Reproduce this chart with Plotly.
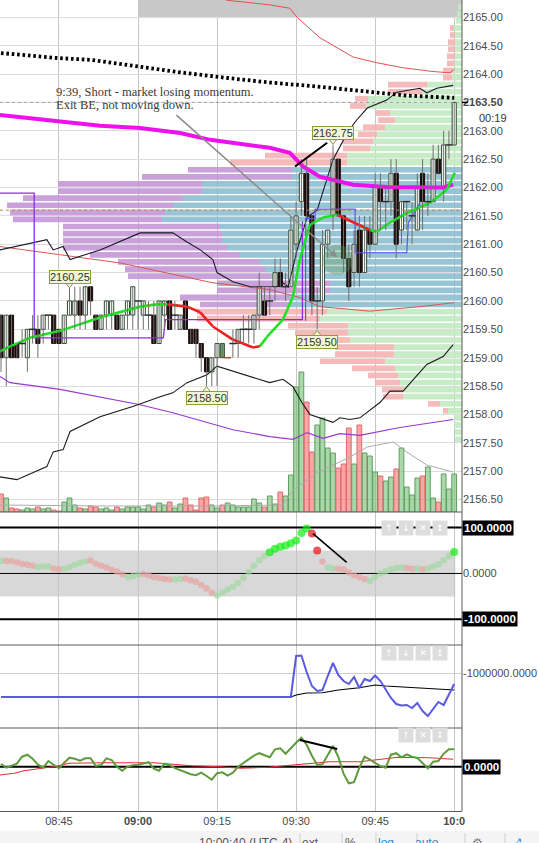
import plotly.graph_objects as go

# ---------------- chart data ----------------
# one-minute bars, minute index 0 = 08:34 ... 86 = 10:00
minute = list(range(87))
opens = [2159.75, 2159.00, 2159.75, 2159.25, 2159.25, 2159.00, 2159.50, 2159.50, 2159.50, 2159.75,
         2159.75, 2159.50, 2159.25, 2159.75, 2159.75, 2160.00, 2159.75, 2160.25, 2159.75, 2159.50,
         2159.75, 2159.75, 2159.75, 2159.50, 2159.75, 2159.75, 2160.00, 2159.75, 2159.75, 2159.75,
         2159.25, 2159.75, 2160.00, 2159.75, 2159.50, 2160.00, 2159.50, 2159.50, 2159.25, 2159.00,
         2158.75, 2159.00, 2159.00, 2159.00, 2159.25, 2159.25, 2159.50, 2159.50, 2159.50, 2159.75,
         2160.00, 2160.00, 2160.25, 2160.50, 2160.25, 2160.25, 2161.00, 2161.75, 2162.25, 2161.50,
         2160.00, 2160.00, 2161.00, 2161.50, 2162.50, 2161.50, 2160.75, 2160.50, 2161.25, 2160.50,
         2161.25, 2161.00, 2162.00, 2161.75, 2161.75, 2162.25, 2161.25, 2161.75, 2161.50, 2161.25,
         2162.25, 2161.75, 2161.75, 2162.50, 2162.00, 2162.75, 2162.75]
highs = [2159.75, 2159.75, 2159.75, 2159.25, 2159.50, 2159.50, 2159.75, 2159.75, 2159.75, 2159.75,
         2159.75, 2159.50, 2159.75, 2160.25, 2160.25, 2160.25, 2160.25, 2160.25, 2159.75, 2159.75,
         2160.00, 2160.00, 2159.75, 2159.75, 2160.00, 2160.25, 2160.00, 2160.00, 2160.00, 2160.00,
         2160.00, 2160.00, 2160.00, 2160.00, 2159.75, 2160.00, 2159.50, 2159.50, 2159.25, 2159.00,
         2159.00, 2159.25, 2159.25, 2159.00, 2159.50, 2159.50, 2159.75, 2159.75, 2159.75, 2160.50,
         2160.25, 2160.25, 2160.75, 2160.75, 2160.50, 2161.50, 2161.75, 2162.50, 2162.50, 2161.50,
         2160.25, 2161.25, 2161.25, 2162.75, 2162.50, 2161.50, 2161.00, 2161.25, 2161.50, 2161.50,
         2161.50, 2162.25, 2162.25, 2162.00, 2162.50, 2162.50, 2161.75, 2161.75, 2161.75, 2162.25,
         2162.50, 2162.25, 2162.75, 2162.75, 2163.00, 2163.00, 2163.50]
lows = [2158.75, 2158.50, 2159.00, 2159.00, 2159.00, 2158.75, 2159.25, 2159.00, 2159.25, 2159.50,
        2159.25, 2159.25, 2159.25, 2159.75, 2159.50, 2159.50, 2159.50, 2159.75, 2159.50, 2159.50,
        2159.50, 2159.50, 2159.50, 2159.50, 2159.50, 2159.50, 2159.50, 2159.50, 2159.50, 2159.25,
        2159.25, 2159.50, 2159.50, 2159.50, 2159.50, 2159.50, 2159.25, 2159.00, 2158.75, 2158.50,
        2158.50, 2158.50, 2159.00, 2159.00, 2159.00, 2159.00, 2159.25, 2159.25, 2159.25, 2159.50,
        2159.75, 2159.75, 2160.00, 2160.25, 2160.00, 2160.25, 2160.75, 2161.50, 2161.50, 2159.75,
        2159.50, 2159.75, 2160.75, 2161.25, 2161.50, 2160.50, 2160.00, 2160.25, 2160.25, 2160.50,
        2160.75, 2161.00, 2161.25, 2161.25, 2161.50, 2160.75, 2161.00, 2161.25, 2161.00, 2161.25,
        2161.25, 2161.50, 2161.75, 2162.25, 2161.75, 2162.50, 2162.75]
closes = [2159.00, 2159.75, 2159.00, 2159.00, 2159.25, 2159.50, 2159.50, 2159.25, 2159.75, 2159.75,
          2159.25, 2159.25, 2159.75, 2160.00, 2160.00, 2159.75, 2160.25, 2160.00, 2159.50, 2159.75,
          2160.00, 2160.00, 2159.50, 2159.75, 2160.00, 2160.25, 2160.00, 2160.00, 2159.75, 2159.25,
          2160.00, 2160.00, 2159.50, 2159.75, 2159.75, 2159.50, 2159.25, 2159.25, 2159.00, 2158.75,
          2159.00, 2159.25, 2159.25, 2159.00, 2159.25, 2159.50, 2159.50, 2159.50, 2159.75, 2160.25,
          2159.75, 2160.00, 2160.50, 2160.25, 2160.25, 2161.25, 2161.50, 2162.25, 2161.50, 2160.00,
          2160.00, 2161.00, 2161.25, 2162.50, 2161.50, 2160.75, 2160.25, 2161.00, 2160.50, 2161.25,
          2161.00, 2162.00, 2161.75, 2161.75, 2162.25, 2161.00, 2161.75, 2161.75, 2161.50, 2162.00,
          2161.75, 2161.75, 2162.50, 2162.25, 2162.75, 2162.75, 2163.50]

volume = [18, 14, 4, 3, 2, 4, 3, 5, 3, 4,
          2, 1, 10, 14, 7, 4, 3, 6, 5, 3,
          4, 2, 5, 3, 5, 5, 5, 3, 7, 5,
          9, 7, 10, 4, 8, 14, 7, 2, 14, 15,
          7, 4, 7, 9, 7, 5, 5, 5, 13, 9,
          5, 16, 8, 20, 16, 37, 125, 140, 110, 60,
          87, 94, 64, 59, 44, 48, 84, 48, 87, 59,
          56, 40, 36, 31, 35, 43, 64, 25, 17, 34,
          36, 45, 14, 10, 38, 23, 38]
volume_up = [0, 1, 0, 0, 1, 1, 1, 0, 1, 1,
             0, 0, 1, 1, 1, 0, 1, 0, 0, 1,
             1, 1, 0, 1, 1, 1, 1, 1, 1, 0,
             1, 1, 0, 1, 1, 0, 0, 0, 0, 0,
             1, 1, 0, 1, 1, 1, 1, 1, 1, 1,
             0, 1, 1, 0, 1, 1, 1, 1, 0, 0,
             1, 1, 1, 1, 0, 0, 0, 1, 0, 1,
             1, 1, 0, 1, 1, 0, 1, 1, 1, 1,
             0, 1, 1, 0, 1, 1, 1]
vol_ma_t = [-0.2, 20, 40, 53.5, 55.4, 60, 63, 66.2, 69.5, 74.4, 77, 80.8, 85.8]
vol_ma_v = [7, 6, 6, 7, 22, 39, 47, 55, 65, 70, 60, 47, 40]

# volume profile rows (row bottom price, up volume, down volume)
prof_bottom = [2165.125, 2165.0, 2164.875, 2164.75, 2164.625, 2164.5, 2164.375, 2164.25, 2164.125, 2164.0,
               2163.875, 2163.75, 2163.625, 2163.5, 2163.375, 2163.25, 2163.125, 2163.0, 2162.875, 2162.75,
               2162.625, 2162.5, 2162.375, 2162.25, 2162.125, 2162.0, 2161.875, 2161.75, 2161.625, 2161.5,
               2161.375, 2161.25, 2161.125, 2161.0, 2160.875, 2160.75, 2160.625, 2160.5, 2160.375, 2160.25,
               2160.125, 2160.0, 2159.875, 2159.75, 2159.625, 2159.5, 2159.375, 2159.25, 2159.125, 2159.0,
               2158.875, 2158.75, 2158.625, 2158.5, 2158.375, 2158.25, 2158.125, 2158.0, 2157.875, 2157.75,
               2157.625, 2157.5]
prof_up = [4, 5, 6, 8, 7, 7, 7, 7, 8, 9,
           10, 35, 40, 94, 96, 72, 67, 77, 85, 89,
           92, 115, 115, 170, 170, 260, 260, 279, 289, 297,
           300, 242, 240, 240, 235, 222, 202, 197, 192, 132,
           132, 172, 172, 135, 142, 114, 114, 112, 68, 68,
           77, 67, 64, 62, 59, 59, 22, 14, 8, 8,
           7, 7]
prof_down = [0, 0, 0, 4, 5, 7, 7, 8, 7, 10,
             9, 39, 34, 13, 16, 15, 17, 22, 19, 31,
             27, 82, 117, 104, 150, 144, 144, 160, 166, 155,
             149, 157, 159, 159, 164, 150, 142, 140, 142, 113,
             113, 110, 90, 130, 123, 60, 53, 30, 59, 59,
             65, 43, 30, 25, 21, 20, 12, 5, 0, 0,
             0, 0]
value_area = (2159.875, 2162.375)

# overlay studies on price (time in minutes, price)
dots_t = [0, 11, 17, 26, 34, 43, 51, 60, 68, 77, 86]
dots_v = [2164.37, 2164.28, 2164.25, 2164.13, 2164.03, 2163.93, 2163.85, 2163.78, 2163.71, 2163.62, 2163.58]
vwap_t = [-0.2, 11.2, 18.8, 26.4, 34, 39.7, 44, 51, 54.8, 57.3, 60.5, 66.8, 73.2, 79.5, 83.9, 85.8]
vwap_v = [2163.28, 2163.16, 2163.09, 2163.05, 2162.96, 2162.84, 2162.79, 2162.70, 2162.61, 2162.37,
          2162.19, 2162.05, 2162.01, 2162.00, 2162.00, 2162.05]
red_up_t = [40, 42.9, 51, 54.8, 56.2, 60.5, 66.8, 71.3, 76.3, 81.4, 85.2, 86.1]
red_up_v = [2165.45, 2165.30, 2165.22, 2165.16, 2165.00, 2164.64, 2164.30, 2164.20, 2164.11, 2164.05, 2164.02, 2164.09]
red_mid_t = [-0.2, 22.6, 40.2, 51, 56.7, 60.5, 70, 79.5, 86]
red_mid_v = [2160.96, 2160.67, 2160.32, 2160.20, 2160.06, 2159.90, 2159.82, 2159.90, 2159.97]
blk_up_t = [-0.2, 8.7, 9.9, 11.8, 13.1, 18.8, 26.4, 32.6, 35.3, 37.8, 40.2, 41, 44, 47.3, 52.4, 53.5,
            54.5, 56.2, 58.1, 60, 63, 65.8, 67.5, 69.5, 73.2, 75.1, 79.5, 80.8, 82.7, 85.8]
blk_up_v = [2160.90, 2161.08, 2160.90, 2160.96, 2160.73, 2160.90, 2161.20, 2161.20, 2161.04, 2160.90,
            2160.73, 2160.50, 2160.34, 2160.25, 2160.25, 2160.32, 2160.25, 2160.90, 2161.48, 2161.60,
            2162.49, 2162.98, 2163.19, 2163.40, 2163.54, 2163.68, 2163.75, 2163.67, 2163.75, 2163.80]
blk_lo_t = [-0.2, 3.0, 8.7, 9.9, 11.8, 13.1, 18.8, 25, 30.2, 32.6, 35.3, 39.1, 41, 44, 47.8, 51, 53.5,
            55.4, 57.1, 58.6, 63, 64.3, 66.2, 68.1, 71.9, 73.8, 76.3, 80.8, 83.9, 85.8]
blk_lo_v = [2156.90, 2156.85, 2157.08, 2157.34, 2157.38, 2157.70, 2157.96, 2158.14, 2158.31, 2158.38,
            2158.56, 2158.70, 2158.85, 2158.76, 2158.65, 2158.56, 2158.62, 2158.49, 2158.21, 2158.00,
            2157.86, 2157.94, 2157.91, 2157.94, 2158.21, 2158.41, 2158.41, 2158.88, 2159.02, 2159.23]
pur_lo_t = [-0.2, 1.7, 11.2, 18.8, 26.4, 32.6, 39.1, 44, 51, 55.4, 58.1, 61.1, 64.3, 68.1, 75.7, 85.8]
pur_lo_v = [2158.67, 2158.56, 2158.44, 2158.31, 2158.17, 2158.03, 2157.86, 2157.73, 2157.61, 2157.56,
            2157.68, 2157.58, 2157.66, 2157.63, 2157.77, 2157.91]
ema_t = [-0.2, 1.7, 5.5, 11.8, 18.8, 26.4, 29.6, 31.5, 35.3, 37.8, 40.2, 44, 47.8, 49.1, 50.5, 53.5,
         55.4, 56.7, 58.6, 61.1, 63.8, 64.7, 70, 71.3, 73.8, 77, 81.4, 84.6, 86.1]
ema_v = [2159.11, 2159.20, 2159.35, 2159.49, 2159.71, 2159.90, 2159.94, 2159.94, 2159.90, 2159.80,
         2159.55, 2159.32, 2159.18, 2159.20, 2159.37, 2159.67, 2160.08, 2160.73, 2161.34, 2161.47,
         2161.52, 2161.48, 2161.25, 2161.22, 2161.38, 2161.55, 2161.73, 2161.96, 2162.26]
ema_dir = ['up'] * 7 + ['down'] * 6 + ['up'] * 7 + ['down'] * 2 + ['up'] * 7
step_t = [-0.2, 6.3, 6.3, 30.8, 31.2, 56.7, 57.2, 57.2]
step_v = [2161.90, 2161.90, 2159.35, 2159.35, 2159.67, 2159.67, 2159.67, 2161.40]
ib_t = [57.8, 57.8, 59.6, 59.6, 67.2, 67.2, 77.0, 77.3, 79.5]
ib_v = [2159.65, 2161.45, 2161.45, 2161.62, 2161.62, 2160.85, 2160.85, 2161.38, 2161.73]
poc_price = 2161.60
last_price = 2163.50

price_ticks = [2156.5, 2157.0, 2157.5, 2158.0, 2158.5, 2159.0, 2159.5, 2160.0, 2160.5,
               2161.0, 2161.5, 2162.0, 2162.5, 2163.0, 2163.5, 2164.0, 2164.5, 2165.0]
time_ticks = [11, 26, 41, 56, 71, 86]
time_labels = ["08:45", "<b>09:00</b>", "09:15", "09:30", "09:45", "<b>10:0</b>"]

# CCI pane
cci = [27, 27, 27, 24, 21, 19, 17, 14, 15, 15,
       11, 9, 10, 14, 19, 23, 26, 28, 21, 17,
       13, 8, 4, -2, -8, -6, -3, -1, -4, -8,
       -10, -12, -13, -13, -12, -11, -15, -18, -25, -33,
       -42, -48, -42, -35, -29, -21, -10, 3, 17, 29,
       38, 46, 54, 58, 61, 66, 72, 88, 98, 87,
       50, 26, 13, 11, 10, 9, 2, -4, -8, -12,
       -16, -8, 0, 5, 9, 12, 13, 12, 10, 10,
       9, 11, 15, 20, 29, 38, 47]
cci_state = list("g" "rrrrrr" "ggg" "rr" "ggggg" "rrrrrrr" "ggg" "rrrrrr" "gg" "rrrrrr"
                 "gggggggggg" "GGGGGGGG" "RR" "r" "gg" "rrrrrr" "ggggggg" "rr" "g" "r" "ggggg" "G")

# money-flow pane
flow_t = [0, 55, 56, 57, 58, 59, 60, 61, 62, 63, 64, 65, 66, 67, 68, 69, 70, 71, 72, 73,
          74, 75, 76, 77, 78, 79, 80, 81, 82, 83, 84, 85, 86]
flow_v = [-2200000, -2200000, -150000, -125000, -950000, -1650000, -1900000, -1850000, -1150000,
          -500000, -1100000, -1400000, -1550000, -1200000, -1750000, -1300000, -1400000, -1125000,
          -1400000, -1850000, -2250000, -2550000, -2625000, -2600000, -2750000, -2500000, -2900000,
          -3150000, -2800000, -2450000, -2600000, -2050000, -1550000]
flow_avg_t = [0, 55, 56, 58, 61, 64, 68, 71, 73, 78, 83, 86]
flow_avg_v = [-2200000, -2200000, -2100000, -2000000, -1985000, -1850000, -1735000, -1600000,
              -1650000, -1735000, -1800000, -1850000]

# oscillator pane
osc = [3, -1, 1, 3, 10, 12, 8, 2, -1, 5.7,
       2, -1.6, 4, 9, 8, 6, 8.4, 8.4, 0.7, 1.7,
       8.4, 6.7, 0, -4, 0, 1.5, 2, 3.5, 4.5, -2,
       -4, 3, 1.5, -1.5, -3.5, -5, -7.5, -8.5, -6, -9.3,
       -13, -6.5, -5.6, -9, -6, 0, 3.4, 7, 11, 13.5,
       11.5, 9.4, 17.4, 18.4, 13, 19, 24, 29, 22, 11,
       1.7, 2.4, 12, 20.7, 10, -7, -16.6, -15.5, -1, 10,
       7, 4, 0.5, -1, 12, 13.5, 9.4, 12.4, 10, 8.8,
       4, -1.6, 5, 5.7, 13, 17.4, 17.4]
osc_sig_t = [-0.2, 2.5, 4.4, 7.6, 10.8, 12.9, 19.4, 29, 32.4, 36.2, 41.6, 45.4, 50.7, 55.2, 58.4,
             62.4, 68.1, 71.5, 75.3, 81.2, 85.8]
osc_sig_v = [-8.3, -6.6, -4, -1.6, 0.7, 3.4, 4, 4, 2.4, 1, 0, -1.6, -0.6, 1.4, 3.4, 5, 5, 7.4, 9.4, 9, 7.4]

# drawings (time, price) and price labels
hi_lo_labels = [(-4.0, 2157.30, "2157.25", None), (-1.14, 2160.17, "2160.00", None),
                (13, 2160.43, "2160.25", "down"), (39, 2158.29, "2158.50", "up"),
                (63, 2162.96, "2162.75", "down"), (60, 2159.28, "2159.50", "up")]
note_lines = ["9:39, Short - market losing momentum.", "Exit BE, not moving down."]

# ---------------- layout helpers ----------------
PLOT_W, PLOT_H = 462.0, 811.0
X_MIN, X_MAX = -0.19, 87.48


def pxx(v):
    return v / PLOT_W


def pxy(v):
    return (PLOT_H - v) / PLOT_H


D_MAIN = [pxy(512), 1.0]
D_CCI = [pxy(645), pxy(512)]
D_FLOW = [pxy(728), pxy(645)]
D_OSC = [0.0, pxy(728)]

fig = go.Figure()


def line(x, y, color, width=1.0, dash=None, yaxis="y2", shape="linear"):
    fig.add_trace(go.Scatter(x=x, y=y, mode="lines", yaxis=yaxis, xaxis="x",
                             line=dict(color=color, width=width, dash=dash, shape=shape),
                             hoverinfo="skip"))


# volume (base subplot)
fig.add_trace(go.Bar(x=minute, y=volume, width=0.9, xaxis="x", yaxis="y",
                     marker=dict(color=["rgba(120,192,120,0.62)" if u else "rgba(246,120,120,0.66)" for u in volume_up],
                                 line=dict(color=["#5e9e5e" if u else "#e06a6a" for u in volume_up], width=1)),
                     hoverinfo="skip"))
line(vol_ma_t, vol_ma_v, "#ababab", 1, yaxis="y")

# volume profile anchored to the right edge
unit = (X_MAX - X_MIN) / PLOT_W
centers = [p + 0.0625 for p in prof_bottom]
in_va = [value_area[0] <= p < value_area[1] for p in prof_bottom]
fig.add_trace(go.Bar(orientation="h", y=centers, x=[-u * unit for u in prof_up], base=X_MAX, width=0.1,
                     xaxis="x", yaxis="y2", opacity=0.9,
                     marker=dict(color=["#8dbfd1" if v else "#c2ebc2" for v in in_va], line=dict(width=0)),
                     hoverinfo="skip"))
fig.add_trace(go.Bar(orientation="h", y=centers, x=[-d * unit for d in prof_down],
                     base=[X_MAX - u * unit for u in prof_up], width=0.1, xaxis="x", yaxis="y2", opacity=0.9,
                     marker=dict(color=["#c597d8" if v else "#f5b3b3" for v in in_va], line=dict(width=0)),
                     hoverinfo="skip"))

# price studies
line([X_MIN, X_MAX], [poc_price, poc_price], "#c8803c", 1, dash="dot")
line([X_MIN, X_MAX], [last_price, last_price], "#a0a0a0", 1, dash="dot")
line(red_mid_t, red_mid_v, "#d65858", 1)
line(pur_lo_t, pur_lo_v, "#9a38d0", 1.2)
line(blk_lo_t, blk_lo_v, "#1a1a1a", 1.1)
line(blk_up_t, blk_up_v, "#1a1a2a", 1.1)
line(red_up_t, red_up_v, "#e05050", 1)
line(step_t, step_v, "#8a2be2", 1.3)
line(ib_t, ib_v, "#5a5ae0", 1.2)
line(dots_t, dots_v, "#000000", 3.8, dash="2.6px,2.8px")
line(vwap_t, vwap_v, "#ee11ee", 4)

for kind, col in (("up", "#22e022"), ("down", "#ee2020")):
    sx, sy = [], []
    for i in range(len(ema_t) - 1):
        if ema_dir[i] == kind:
            sx += [ema_t[i], ema_t[i + 1], None]
            sy += [ema_v[i], ema_v[i + 1], None]
    line(sx, sy, col, 2.6)

# candles: wicks, bodies, dojis
wx, wy = [], []
for m, h, l in zip(minute, highs, lows):
    wx += [m, m, None]
    wy += [l, h, None]
line(wx, wy, "#6f6f6f", 1)

bx, bbase, bh, bcol, bline = [], [], [], [], []
dx, dy, dcol = [], [], []
for m, o, c in zip(minute, opens, closes):
    if o == c:
        dx.append(m)
        dy.append(o)
        dcol.append("#e03030" if m == 43 else "#2a2a2a")
        continue
    bx.append(m)
    bbase.append(min(o, c))
    bh.append(abs(c - o))
    if m == 42:
        bcol.append("#1fe01f")
        bline.append("#2f4f2f")
    elif c > o:
        bcol.append("#ffffff")
        bline.append("#2f4a34")
    else:
        bcol.append("#1c0b0b")
        bline.append("#1c0b0b")
fig.add_trace(go.Bar(x=bx, y=bh, base=bbase, width=0.78, xaxis="x", yaxis="y2",
                     marker=dict(color=bcol, line=dict(color=bline, width=1)), hoverinfo="skip"))
fig.add_trace(go.Scatter(x=dx, y=dy, mode="markers", xaxis="x", yaxis="y2", hoverinfo="skip",
                         marker=dict(symbol="line-ew", size=5, line=dict(color=dcol, width=1.5))))

# trend line drawn on the chart
line([55.8, 61.9], [2162.37, 2162.79], "#000000", 2)

# label pointers
for t, p, txt, d in hi_lo_labels:
    if d:
        fig.add_trace(go.Scatter(x=[t], y=[p - 0.13 if d == "down" else p + 0.13], mode="markers",
                                 xaxis="x", yaxis="y2", hoverinfo="skip",
                                 marker=dict(symbol="triangle-down" if d == "down" else "triangle-up",
                                             size=8, color="#f2f6d2", line=dict(color="#8aa03c", width=1))))

# CCI pane
cmap = {"r": "#e8a3a3", "g": "#a2d9a2", "G": "#10ee10", "R": "#ee1010"}
fig.add_trace(go.Scatter(x=minute, y=cci, mode="markers", xaxis="x", yaxis="y3", hoverinfo="skip",
                         marker=dict(color=[cmap[s] for s in cci_state],
                                     size=[8 if s in "GR" else 6.5 for s in cci_state], line=dict(width=0))))
line([59.2, 65.6], [87, 24], "#000000", 1.6, yaxis="y3")

# money flow pane
line(flow_avg_t, flow_avg_v, "#000000", 1.1, yaxis="y4")
line(flow_t, flow_v, "#5a5ae0", 2, yaxis="y4")

# oscillator pane
line(osc_sig_t, osc_sig_v, "#e03030", 1.1, yaxis="y5")
line(minute, osc, "#5f9a3c", 2, yaxis="y5")
line([56.7, 63.8], [26.7, 17.7], "#000000", 2, yaxis="y5")

# ---------------- shapes ----------------
shapes = []
sep = "#5a5a5a"
for yy in (512, 645, 728):
    shapes.append(dict(type="line", xref="paper", yref="paper", x0=0, x1=1, y0=pxy(yy), y1=pxy(yy),
                       line=dict(color=sep, width=1)))
shapes.append(dict(type="line", xref="paper", yref="paper", x0=1, x1=1, y0=0, y1=1, line=dict(color=sep, width=1)))
shapes.append(dict(type="rect", xref="x", yref="y2", x0=26, x1=X_MAX, y0=2165.0, y1=2165.6,
                   fillcolor="#c8c8c8", line=dict(width=0), layer="below"))
shapes.append(dict(type="rect", xref="x", yref="y3", x0=X_MIN, x1=86.2, y0=-50, y1=50,
                   fillcolor="#d8d8d8", line=dict(width=0), layer="below"))
for lv, w in ((100, 2), (-100, 2), (0, 1)):
    shapes.append(dict(type="line", xref="x", yref="y3", x0=X_MIN, x1=X_MAX, y0=lv, y1=lv,
                       line=dict(color="#000000", width=w), layer="between"))
shapes.append(dict(type="line", xref="x", yref="y5", x0=X_MIN, x1=X_MAX, y0=0, y1=0,
                   line=dict(color="#000000", width=2), layer="between"))
shapes.append(dict(type="circle", xref="x", yref="y2", x0=61.0, x1=66.8, y0=2160.46, y1=2160.99,
                   fillcolor="rgba(95,155,95,0.35)", line=dict(width=0), layer="above"))
shapes.append(dict(type="line", xref="paper", yref="y2", x0=1.0, x1=pxx(468), y0=last_price, y1=last_price,
                   line=dict(color="#000000", width=1.5)))
# status bar
shapes.append(dict(type="rect", xref="paper", yref="paper", x0=0, x1=pxx(539), y0=pxy(843), y1=pxy(831),
                   fillcolor="#f4f4f4", line=dict(width=0)))
for xs in (300, 342, 376, 417, 465, 505):
    shapes.append(dict(type="line", xref="paper", yref="paper", x0=pxx(xs), x1=pxx(xs), y0=pxy(843), y1=pxy(833),
                       line=dict(color="#cfcfcf", width=1)))

# ---------------- annotations ----------------
ann = []
for t, p, txt, d in hi_lo_labels:
    ann.append(dict(x=t, y=p, xref="x", yref="y2", text=txt, showarrow=False,
                    font=dict(size=11, color="#333333"), bgcolor="#f2f6d2", bordercolor="#8aa03c",
                    borderwidth=1, borderpad=0))
for i, txt in enumerate(note_lines):
    ann.append(dict(x=10.06, y=2163.68 - 0.23 * i, xref="x", yref="y2", text=txt, showarrow=False,
                    xanchor="left", yanchor="middle",
                    font=dict(family="Liberation Serif, Times New Roman, serif", size=12.5, color="#3a3a3a")))
ann.append(dict(x=63.8, y=2160.77, xref="x", yref="y2", ax=33.0, ay=2163.30, axref="x", ayref="y2",
                text="", showarrow=True, arrowhead=2, arrowsize=1, arrowwidth=1.5, arrowcolor="#8c8c8c"))
ann.append(dict(x=pxx(478), y=pxy(118), xref="paper", yref="paper", xanchor="left", yanchor="middle",
                text="00:19", showarrow=False, bgcolor="#ffffff", font=dict(size=11, color="#333333"),
                borderpad=0))
for val, txt in ((100, "100.0000"), (-100, "-100.0000")):
    ann.append(dict(x=1.0, y=val, xref="paper", yref="y3", xanchor="left", text="<b>%s</b>" % txt,
                    showarrow=False, bgcolor="#000000", font=dict(size=11.5, color="#ffffff"), borderpad=1))
ann.append(dict(x=1.0, y=0, xref="paper", yref="y5", xanchor="left", text="<b>0.0000</b>",
                showarrow=False, bgcolor="#000000", font=dict(size=11.5, color="#ffffff"), borderpad=1))
# pane buttons
icon_rows = [(528, ["↑", "↓", "✕", "↕"], [397, 414, 431, 448]),
             (661, ["↑", "↓", "✕", "↕"], [397, 414, 431, 448]),
             (743, ["↑", "✕", "↕"], [414, 431, 448])]
for yy, glyphs, xs in icon_rows:
    for g, xx in zip(glyphs, xs):
        ann.append(dict(x=pxx(xx), y=pxy(yy), xref="paper", yref="paper", text=g, showarrow=False,
                        width=12, height=12, bgcolor="#dddddd",
                        font=dict(family="DejaVu Sans", size=9, color="#ffffff")))
# status bar texts
for xx, txt, col in ((245, "10:00:40 (UTC-4)", "#555555"), (321, "ext", "#555555"), (358, "%", "#555555"),
                     (396, "log", "#2e86d6"), (441, "auto", "#2e86d6"), (485, "⚙", "#777777"),
                     (524, "⤢", "#2e86d6")):
    ann.append(dict(x=pxx(xx), y=pxy(834), xref="paper", yref="paper", yanchor="top", text=txt,
                    showarrow=False, font=dict(size=12, color=col, family="Liberation Sans, DejaVu Sans")))

axis_font = dict(size=11, color="#4a4a4a")
fig.update_layout(
    width=539, height=843, autosize=False,
    margin=dict(l=0, r=77, t=0, b=32, pad=0),
    paper_bgcolor="#ffffff", plot_bgcolor="#ffffff",
    showlegend=False, hovermode=False, barmode="overlay",
    font=dict(family="Liberation Sans, Arial, sans-serif", color="#4a4a4a"),
    xaxis=dict(range=[X_MIN, X_MAX], anchor="y5", tickmode="array", tickvals=time_ticks, ticktext=time_labels,
               showgrid=True, gridcolor="#c6c6c6", gridwidth=1, zeroline=False, showline=True,
               linecolor="#5a5a5a", ticks="", tickfont=axis_font, fixedrange=True),
    yaxis=dict(domain=D_MAIN, range=[0, 512], visible=False, fixedrange=True),
    yaxis2=dict(domain=D_MAIN, overlaying="y", side="right", anchor="x", range=[2156.28, 2165.305],
                tickmode="array", tickvals=price_ticks,
                ticktext=["<b>%.2f</b>" % p if p == last_price else "%.2f" % p for p in price_ticks],
                showgrid=True, gridcolor="#dcdcdc", zeroline=False, ticks="", tickfont=axis_font),
    yaxis3=dict(domain=D_CCI, anchor="x", side="right", range=[-156, 134], tickmode="array", tickvals=[0],
                ticktext=["0.0000"], showgrid=False, zeroline=False, ticks="", tickfont=axis_font),
    yaxis4=dict(domain=D_FLOW, anchor="x", side="right", range=[-3750000, 400000], tickmode="array",
                tickvals=[-1000000], ticktext=["-1000000.0000"], showgrid=True, gridcolor="#cfcfcf",
                zeroline=False, ticks="", tickfont=axis_font),
    yaxis5=dict(domain=D_OSC, anchor="x", side="right", range=[-44.3, 38.7], showticklabels=False,
                showgrid=False, zeroline=False, ticks=""),
    shapes=shapes, annotations=ann,
)

fig.write_html("out.html", config={"displayModeBar": False, "staticPlot": True},
               post_script="document.body.style.margin='0';document.body.style.overflow='hidden';")
